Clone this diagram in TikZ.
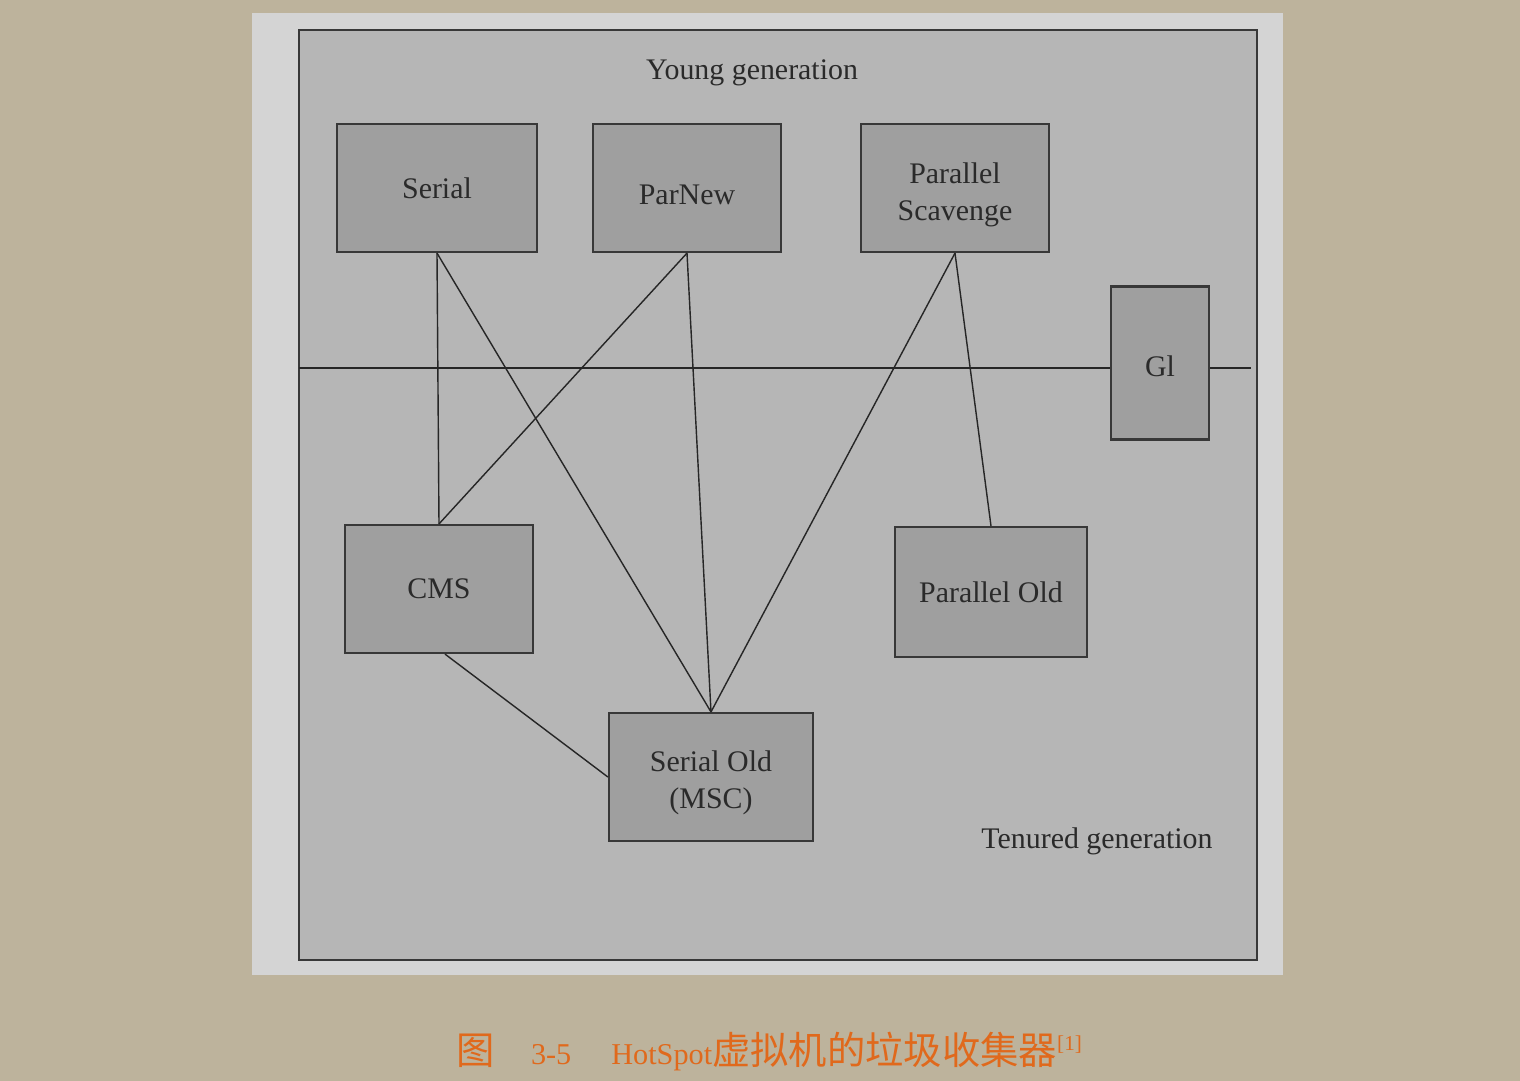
\documentclass[tikz,border=0pt]{standalone}
\usepackage{fontspec}
\setmainfont{Liberation Serif}
\newfontfamily\cjk{Noto Sans CJK SC}

\definecolor{pagebg}{HTML}{BDB39C}
\definecolor{panelbg}{HTML}{D4D4D4}
\definecolor{heapfill}{HTML}{B6B6B6}
\definecolor{boxfill}{HTML}{9F9F9F}
\definecolor{boxline}{HTML}{383838}
\definecolor{labeltext}{HTML}{2A2A2A}
\definecolor{capcolor}{HTML}{E0691C}

\begin{document}
\begin{tikzpicture}[
  x=0.01cm,
  y=-0.01cm,
  gc/.style={
    draw=boxline,
    line width=0.6pt,
    fill=boxfill,
    text=labeltext,
    minimum height=1.28cm,
    inner sep=0pt,
    align=center,
    font=\fontsize{8.5}{10.5}\selectfont
  },
  gen/.style={
    text=labeltext,
    inner sep=0pt,
    font=\fontsize{8.5}{10.5}\selectfont
  },
  link/.style={line width=0.4pt, draw=black!85}
]

% Background
\useasboundingbox (0,0) rectangle (1520,1081);
\fill[pagebg] (0,0) rectangle (1520,1081);
\fill[panelbg] (252,13) rectangle (1283,975);
\draw[boxline, line width=0.8pt, fill=heapfill] (299,30) rectangle (1257,960);

% Nodes
\node[gen] (young) at (752,73) {Young generation};
\node[gen] (tenured) at (1097,841) {Tenured generation};

\node[gc, minimum width=2cm] (serial) at (437,188) {Serial};
\node[gc, minimum width=1.88cm, text height=9.5pt] (parnew) at (687,188) {ParNew};
\node[gc, minimum width=1.88cm] (pscav) at (955,188) {\rule{0pt}{10pt}Parallel\\Scavenge};
\node[gc, minimum width=0.98cm, minimum height=1.53cm, text height=7.5pt] (g1) at (1160,363) {Gl};
\node[gc, minimum width=1.88cm] (cms) at (439,589) {CMS};
\node[gc, minimum width=1.92cm, minimum height=1.3cm] (parold) at (991,592) {Parallel Old};
\node[gc, minimum width=2.04cm] (serold) at (711,777) {\rule{0pt}{9pt}Serial Old\\(MSC)};

% Divider between the generations
\coordinate (divL) at (299,368);
\coordinate (divR) at (1251,368);
\draw[link] (divL) -- (divL -| g1.west);
\draw[link] (divL -| g1.east) -- (divR);

% Collector pairs
\draw[link] (serial.south) -- (cms.north);
\draw[link] (serial.south) -- (serold.north);
\draw[link] (parnew.south) -- (cms.north);
\draw[link] (parnew.south) -- (serold.north);
\draw[link] (pscav.south) -- (serold.north);
\draw[link] (pscav.south) -- (parold.north);
\draw[link] ([xshift=0.06cm]cms.south) -- (serold.west);

% Caption
\node[anchor=base west, inner sep=0pt, text=capcolor,
      font=\fontsize{8.6}{10}\selectfont] (caption) at (456,1064)
  {{\cjk\fontsize{10.9}{12}\selectfont 图}\hspace{0.36cm}3-5\hspace{0.40cm}HotSpot{\cjk\fontsize{10.9}{12}\selectfont 虚拟机的垃圾收集器}\textsuperscript{[1]}};

\end{tikzpicture}
\end{document}
